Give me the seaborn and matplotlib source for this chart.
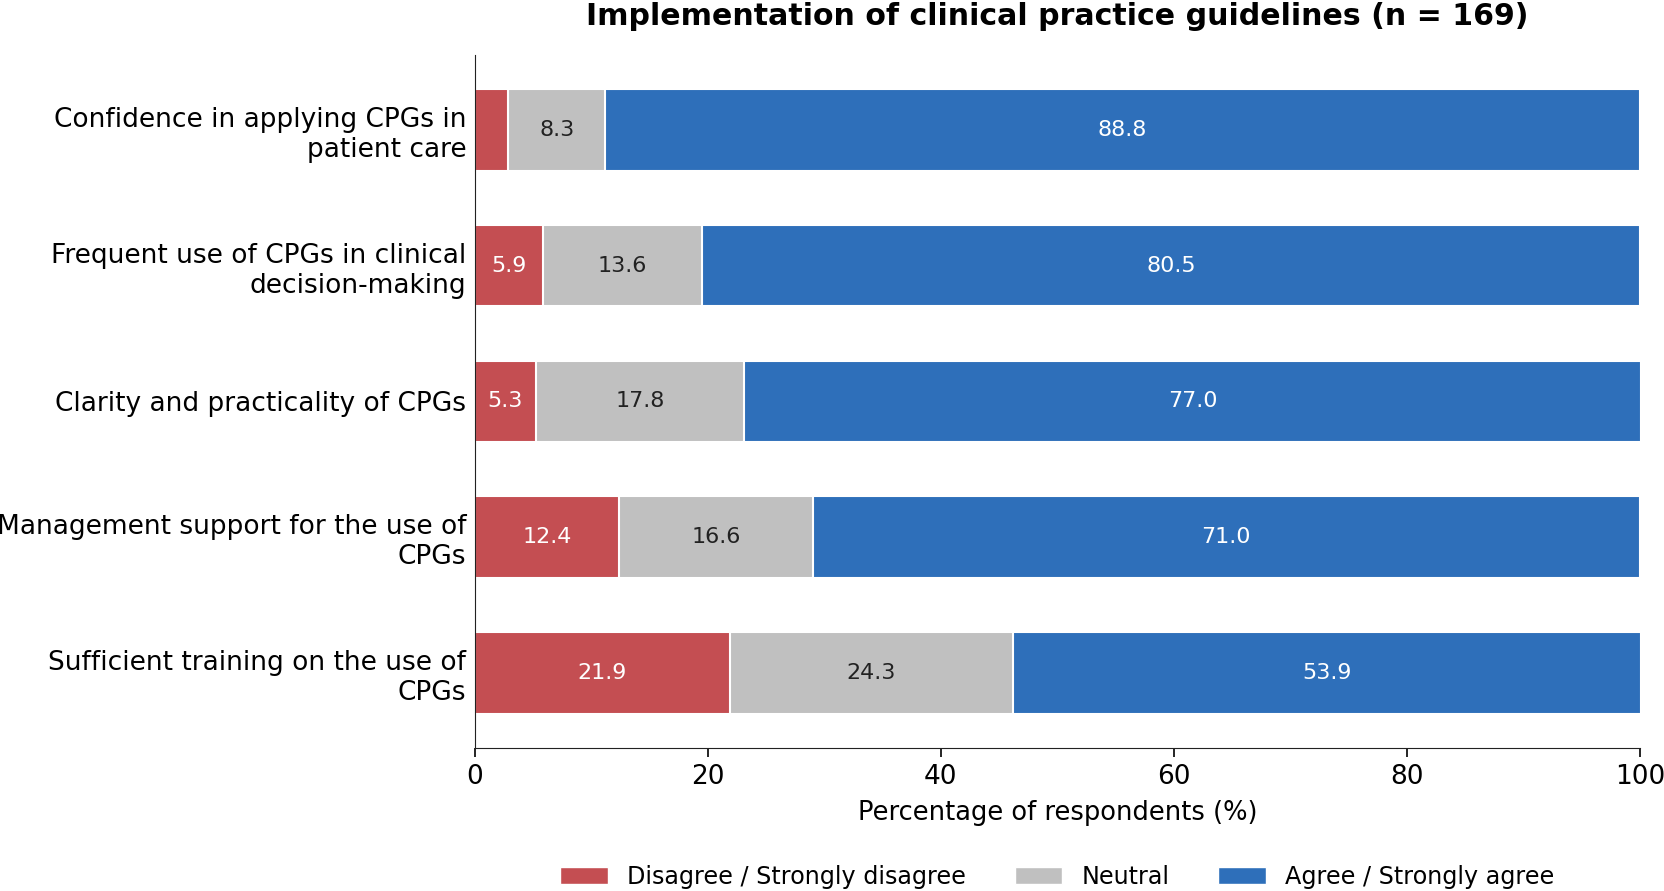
import matplotlib
matplotlib.use("Agg")
import matplotlib.pyplot as plt
import seaborn as sns
import numpy as np
import pandas as pd
from matplotlib.patches import Patch

categories = [
    "Confidence in applying CPGs in\npatient care",
    "Frequent use of CPGs in clinical\ndecision-making",
    "Clarity and practicality of CPGs",
    "Management support for the use of\nCPGs",
    "Sufficient training on the use of\nCPGs",
]
disagree = [2.9, 5.9, 5.3, 12.4, 21.9]
neutral = [8.3, 13.6, 17.8, 16.6, 24.3]
agree = [88.8, 80.5, 77.0, 71.0, 53.9]
series_names = ["Disagree / Strongly disagree", "Neutral", "Agree / Strongly agree"]
colors = ["#c44e52", "#c0c0c0", "#2e6fba"]
text_colors = ["white", "#222222", "white"]

sns.set_style("ticks")
plt.rcParams["font.family"] = ["DejaVu Sans"]
plt.rcParams["text.color"] = "black"
plt.rcParams["axes.labelcolor"] = "black"
plt.rcParams["xtick.color"] = "black"
plt.rcParams["ytick.color"] = "black"
plt.rcParams["axes.edgecolor"] = "#222222"

df = pd.DataFrame({"cat": categories, "d": disagree, "n": neutral, "a": agree})
df["c1"] = df["d"]
df["c2"] = df["d"] + df["n"]
df["c3"] = df["d"] + df["n"] + df["a"]

fig = plt.figure(figsize=(16.65, 8.91), dpi=100)
ax = fig.add_axes([0.285, 0.161, 0.7, 0.777])

for col, color in zip(["c3", "c2", "c1"], colors[::-1]):
    sns.barplot(data=df, x=col, y="cat", orient="h", color=color, width=0.6,
                edgecolor="white", linewidth=1.5, ax=ax, saturation=1)

vals = [disagree, neutral, agree]
lefts = [np.zeros(5), np.array(disagree), np.array(disagree) + np.array(neutral)]
for s in range(3):
    for i in range(5):
        v = vals[s][i]
        if v >= 4:
            ax.text(lefts[s][i] + v / 2, i, f"{v:.1f}", ha="center", va="center",
                    fontsize=16, color=text_colors[s])

ax.set_xlim(0, 100)
ax.set_ylim(4.55, -0.55)
ax.set_ylabel("")
ax.set_xlabel("Percentage of respondents (%)", fontsize=18.5, labelpad=7.5)
ax.tick_params(axis="x", labelsize=19, length=6.5, width=1.2, pad=5)
ax.tick_params(axis="y", labelsize=19, length=0, pad=6)
sns.despine(ax=ax)
ax.set_title("Implementation of clinical practice guidelines (n = 169)", fontsize=21.6,
             fontweight="bold", pad=22)

handles = [Patch(facecolor=c, edgecolor="white") for c in colors]
fig.legend(handles, series_names, loc="lower center", ncol=3, frameon=False,
           fontsize=17.2, bbox_to_anchor=(0.635, -0.022), columnspacing=2.03)

fig.savefig("out.png", dpi=100)
